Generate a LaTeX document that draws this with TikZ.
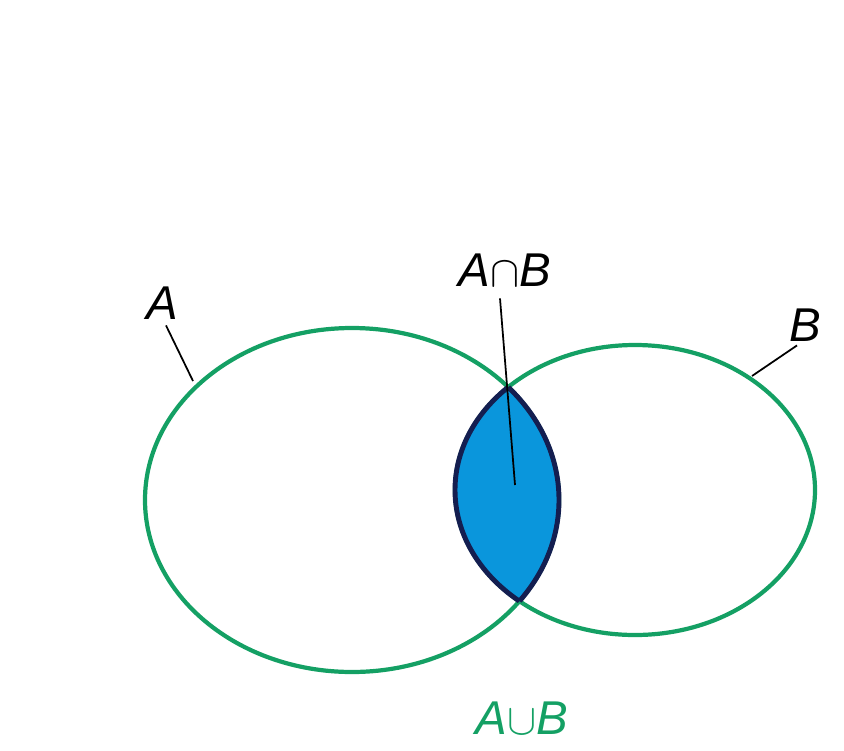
\documentclass[tikz,border=0pt]{standalone}
\usepackage{fontspec}
\setmainfont{Liberation Sans}
\usetikzlibrary{positioning}
\definecolor{setgreen}{RGB}{20,160,100}
\definecolor{lensblue}{RGB}{10,150,220}
\definecolor{lensline}{RGB}{20,30,80}
\tikzset{
  setline/.style={draw=setgreen, line width=2.4pt},
  lbl/.style={font=\fontsize{27}{27}\selectfont\itshape, inner sep=1pt},
  leader/.style={draw=black, line width=1pt}
}
\begin{document}
\begin{tikzpicture}[x=0.02cm,y=-0.02cm]
    \useasboundingbox (0,0) rectangle (844,750);
    \draw[setline] (352,500) ellipse [x radius=207, y radius=172];
    \draw[setline] (635,490) ellipse [x radius=180, y radius=145];
    % lens A cap B
    \begin{scope}
      \clip (352,500) ellipse [x radius=207, y radius=172];
      \fill[lensblue] (635,490) ellipse [x radius=180, y radius=145];
      \draw[lensline, line width=2.8pt] (635,490) ellipse [x radius=180, y radius=145];
    \end{scope}
    \begin{scope}
      \clip (635,490) ellipse [x radius=180, y radius=145];
      \draw[lensline, line width=2.8pt] (352,500) ellipse [x radius=207, y radius=172];
    \end{scope}
    % labels
    \node[lbl] (A) at (162,303) {A};
    \node[lbl] (B) at (805,325) {B};
    \node[lbl] (AcapB) at (505,270) {A$\cap$B};
    \node[lbl, text=setgreen] (AcupB) at (522,718) {A$\cup$B};
    \coordinate (Aend) at (193,381);
    \coordinate (Bend) at (752,376);
    \coordinate (Lend) at (515,485);
    \draw[leader] (A.south) ++(4,4) -- (Aend);
    \draw[leader] (B.south) ++(-8,2) -- (Bend);
    \draw[leader] (AcapB.south) ++(-5,10) -- (Lend);
\end{tikzpicture}
\end{document}
